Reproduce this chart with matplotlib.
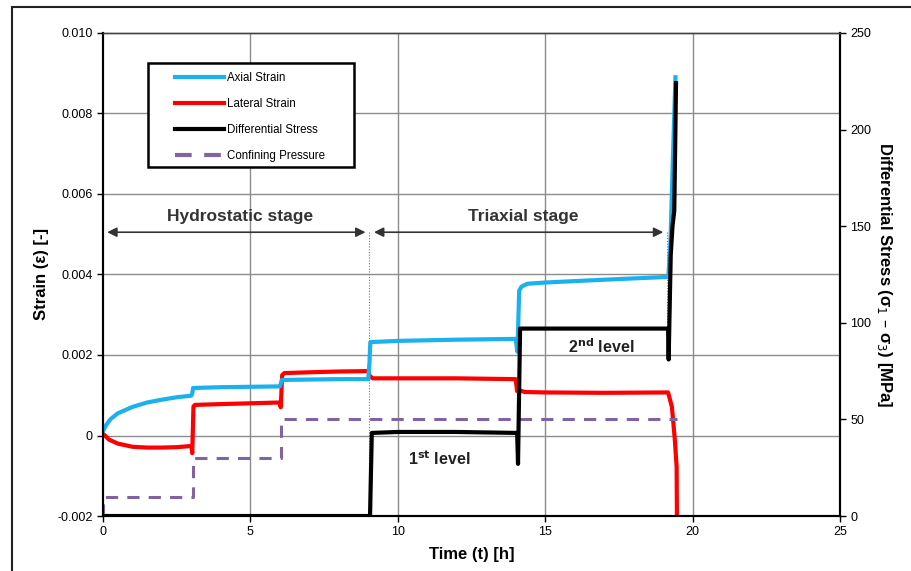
import matplotlib
matplotlib.use("Agg")
import matplotlib.pyplot as plt
from matplotlib.patches import Rectangle
from matplotlib.lines import Line2D

plt.rcParams['font.family'] = ['Liberation Sans', 'DejaVu Sans']

# Axial strain (blue)
t_axial = [0, 0.1, 0.25, 0.5, 1.0, 1.5, 2.0, 2.5, 3.0, 3.03, 3.06, 4.0, 5.0, 6.0, 6.03, 6.07,
           7.0, 8.0, 9.0, 9.04, 9.07, 10.0, 12.0, 14.0, 14.06, 14.12, 14.2, 14.4, 15.0,
           17.0, 19.18, 19.25, 19.33, 19.42]
axial = [0.0001, 0.00025, 0.0004, 0.00055, 0.00071, 0.00082, 0.00089, 0.00095, 0.00099,
         0.00105, 0.00118, 0.0012, 0.00121, 0.00122, 0.00128, 0.00138, 0.00139, 0.0014,
         0.0014, 0.0018, 0.00232, 0.00235, 0.00238, 0.0024, 0.00208, 0.0036, 0.0037,
         0.00377, 0.0038, 0.00387, 0.00394, 0.0048, 0.0068, 0.0089]

# Lateral strain (red)
t_lat = [0, 0.2, 0.5, 1.0, 1.5, 2.0, 2.5, 3.0, 3.03, 3.07, 3.12, 4.0, 5.0, 6.0, 6.03, 6.08,
         6.15, 7.0, 8.0, 9.0, 9.05, 9.15, 10.0, 12.0, 14.0, 14.05, 14.15, 14.3, 15.0, 17.0,
         19.17, 19.3, 19.4, 19.46, 19.47]
lateral = [0.00005, -0.0001, -0.0002, -0.00028, -0.0003, -0.0003, -0.00029, -0.00026,
           -0.00044, 0.00072, 0.00076, 0.00078, 0.0008, 0.00082, 0.0007, 0.0015, 0.00155,
           0.00157, 0.00159, 0.0016, 0.00148, 0.00142, 0.00142, 0.00142, 0.0014, 0.0011,
           0.00112, 0.00108, 0.00107, 0.00106, 0.00107, 0.00071, -0.00011, -0.00078, -0.002]

# Differential stress (black, MPa)
t_ds = [0, 9.06, 9.12, 10.0, 12.0, 14.05, 14.08, 14.15, 16.0, 19.17, 19.19, 19.21,
        19.26, 19.32, 19.38, 19.41, 19.44]
dstress = [0, 0, 43, 43.5, 43.5, 43, 27, 97, 97, 97, 81, 97, 135, 150, 158, 190, 224]

# Confining pressure (purple dashed, MPa)
t_cp = [0, 0, 3.05, 3.05, 6.05, 6.05, 19.47]
cpress = [0, 10, 10, 30, 30, 50, 50]

fig = plt.figure(figsize=(9.11, 5.71), dpi=100)
ax = fig.add_axes([0.113, 0.0963, 0.809, 0.846])
ax2 = ax.twinx()

grid_c = '#8c8c8c'
for xv in [5, 10, 15, 20]:
    ax.axvline(xv, color=grid_c, lw=1.0, zorder=0)
for yv in [0, 0.002, 0.004, 0.006, 0.008]:
    ax.axhline(yv, color=grid_c, lw=1.0, zorder=0)

# dotted stage markers
ax.plot([9.03, 9.03], [0.00505, -0.002], color='#777777', lw=0.8, ls=(0, (1, 1.5)), zorder=1)
ax.plot([19.13, 19.13], [0.00505, 0.0028], color='#777777', lw=0.8, ls=(0, (1, 1.5)), zorder=1)

ax2.plot(t_cp, cpress, color='#8064A2', lw=2.2, dashes=(4, 3), zorder=2)
ax.plot(t_lat, lateral, color='#FF0000', lw=3, zorder=3)
ax.plot(t_axial, axial, color='#1BB1EE', lw=3, zorder=4)
ax2.plot(t_ds, dstress, color='black', lw=3, zorder=5)

ax.set_xlim(0, 25)
ax.set_ylim(-0.002, 0.010)
ax2.set_ylim(0, 250)
ax.set_xticks([0, 5, 10, 15, 20, 25])
ax.set_yticks([-0.002, 0, 0.002, 0.004, 0.006, 0.008, 0.010])
ax.set_yticklabels(['-0.002', '0', '0.002', '0.004', '0.006', '0.008', '0.010'])
ax2.set_yticks([0, 50, 100, 150, 200, 250])
for a in (ax, ax2):
    a.tick_params(labelsize=9, length=4, width=1, colors='black')
    for s in a.spines.values():
        s.set_linewidth(1.5)
ax.spines['top'].set_color('#444444')
ax.spines['top'].set_linewidth(1.0)
ax2.spines['top'].set_color('#444444')
ax2.spines['top'].set_linewidth(1.0)

ax.set_xlabel('Time (t) [h]', fontsize=12, fontweight='bold', labelpad=6)
ax.set_ylabel('Strain (ε) [-]', fontsize=12, fontweight='bold', labelpad=6)
ax2.set_ylabel('Differential Stress (σ$_1$ – σ$_3$) [MPa]', fontsize=12,
               fontweight='bold', rotation=270, labelpad=16)

# stage arrows
ax.annotate('', xy=(0.05, 0.00505), xytext=(9.0, 0.00505),
            arrowprops=dict(arrowstyle='<|-|>', color='#333333', lw=1.2, mutation_scale=14))
ax.annotate('', xy=(9.1, 0.00505), xytext=(19.1, 0.00505),
            arrowprops=dict(arrowstyle='<|-|>', color='#333333', lw=1.2, mutation_scale=14))
ax.text(4.65, 0.00543, 'Hydrostatic stage', fontsize=12.5, fontweight='bold',
        color='#333333', ha='center', va='center')
ax.text(14.25, 0.00543, 'Triaxial stage', fontsize=12.5, fontweight='bold',
        color='#333333', ha='center', va='center')
ax.text(11.4, -0.00057, r'1$^{\mathbf{st}}$ level', fontsize=11.5, fontweight='bold',
        color='#222222', ha='center', va='center')
ax.text(16.9, 0.0022, r'2$^{\mathbf{nd}}$ level', fontsize=11.5, fontweight='bold',
        color='#222222', ha='center', va='center')

# legend with a square box
handles = [Line2D([], [], color='#1BB1EE', lw=3),
           Line2D([], [], color='#FF0000', lw=3),
           Line2D([], [], color='black', lw=3),
           Line2D([], [], color='#8064A2', lw=3, dashes=(4, 3))]
labels = ['Axial Strain', 'Lateral Strain', 'Differential Stress', 'Confining Pressure']
leg = ax.legend(handles, labels, loc='upper left', bbox_to_anchor=(0.098, 0.920),
                frameon=False, fontsize=8.3, handlelength=4.2, handletextpad=0.3,
                labelspacing=1.23, borderaxespad=0, borderpad=0)
leg.set_zorder(10)
ax.add_patch(Rectangle((0.061, 0.7226), 0.28, 0.2154, transform=ax.transAxes,
                       facecolor='white', edgecolor='black', lw=1.8, zorder=9))

# outer frame of the picture
fig.add_artist(Rectangle((0.0132, -0.1), 1.2, 1.0877, transform=fig.transFigure,
                         facecolor='none', edgecolor='#222222', lw=1.5))

fig.savefig('out.png', dpi=100)
